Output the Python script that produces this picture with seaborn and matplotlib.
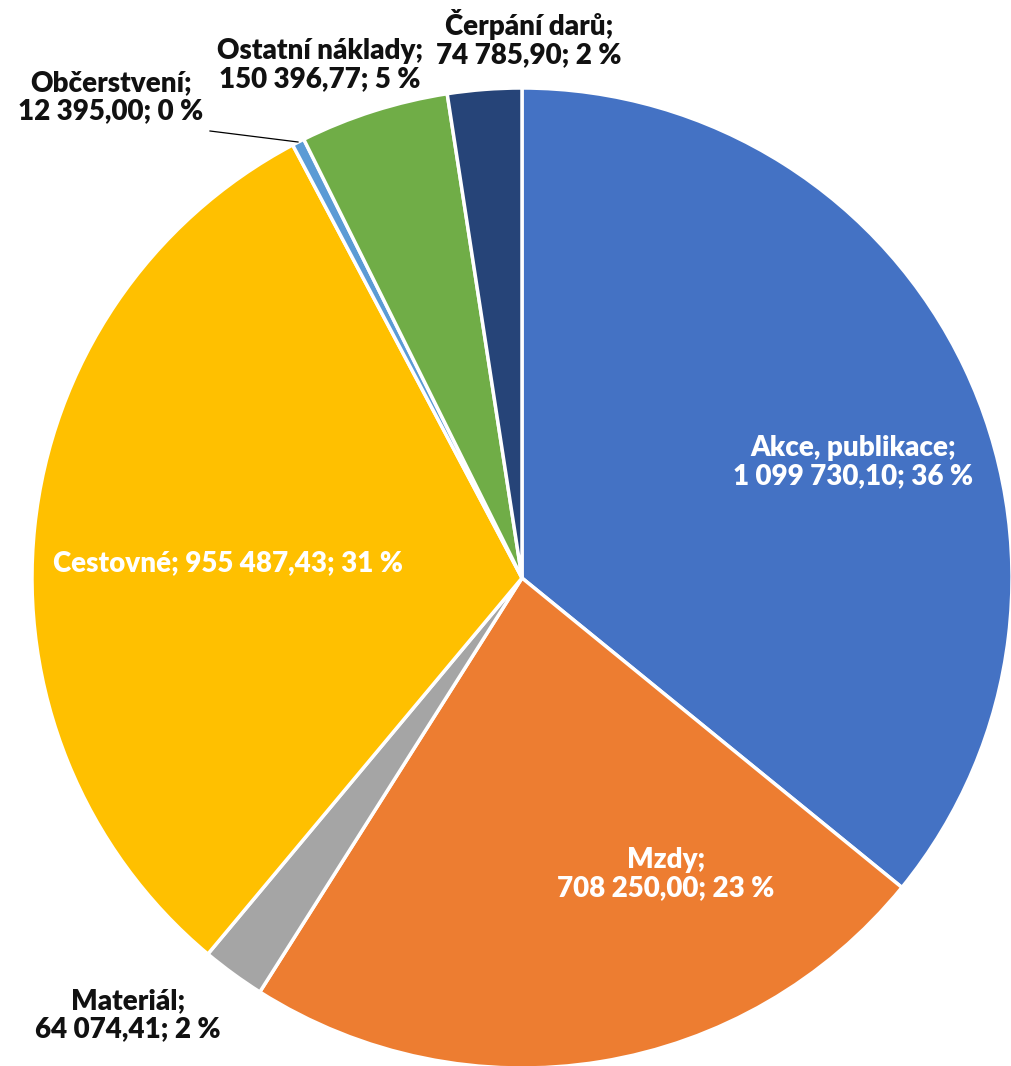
import seaborn as sns
import matplotlib.pyplot as plt

categories = ["Akce, publikace", "Mzdy", "Materiál", "Cestovné", "Občerstvení", "Ostatní náklady", "Čerpání darů"]
values = [1099730.10, 708250.00, 64074.41, 955487.43, 12395.00, 150396.77, 74785.90]
colors = ["#4472C4", "#ED7D31", "#A5A5A5", "#FFC000", "#5B9BD5", "#70AD47", "#264478"]


def fmt_num(v):
    s = f"{v:,.2f}"
    return s.replace(",", " ").replace(".", ",")


palette = sns.color_palette(colors)

fig = plt.figure(figsize=(10.11, 10.66), dpi=100)
ax = fig.add_axes([0, 0, 1, 1])

H = 1066
cx, cy, r = 522, H - 578, 490
ax.pie(values, colors=palette, startangle=90, counterclock=False,
       center=(cx, cy), radius=r, frame=True,
       wedgeprops={"edgecolor": "white", "linewidth": 2.5})
ax.set_xlim(0, 1011)
ax.set_ylim(0, 1066)
ax.set_aspect("equal")
ax.axis("off")

total = sum(values)
pcts = [round(v / total * 100) for v in values]

# label placement (x, y in pixels from top), text colour, two lines or one
layout = [
    (853, 462, "white", True),
    (666, 874, "white", True),
    (128, 1015, "#111111", True),
    (228, 563, "white", False),
    (111, 97, "#111111", True),
    (320, 65, "#111111", True),
    (529, 39, "#111111", True),
]

for cat, v, p, (x, y, c, two) in zip(categories, values, pcts, layout):
    sep = "\n" if two else " "
    txt = f"{cat};{sep}{fmt_num(v)}; {p} %"
    ax.text(x, H - y, txt, ha="center", va="center", fontsize=20, family="Lato",
            fontweight=800, color=c, linespacing=1.1)

# leader line for the small slice
ax.plot([210, 298], [H - 131, H - 142], color="black", lw=0.9)

fig.savefig("out.png", dpi=100)
